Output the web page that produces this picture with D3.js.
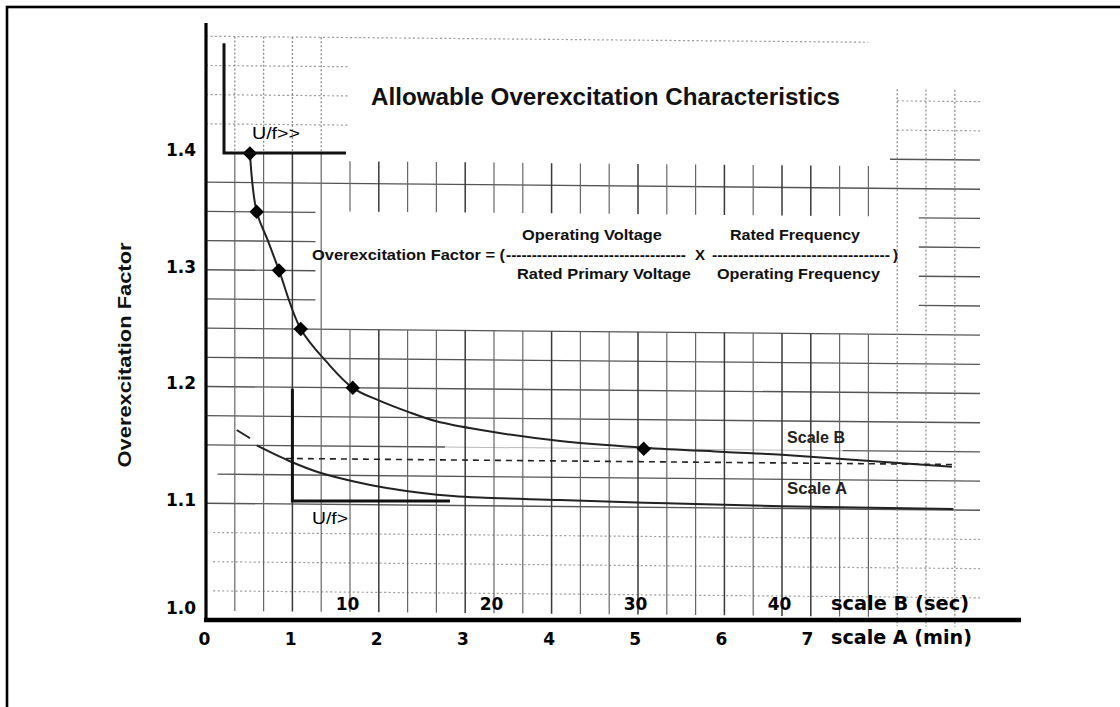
<!DOCTYPE html>
<html><head><meta charset="utf-8">
<script src="https://cdn.jsdelivr.net/npm/d3@7"></script>
<style>html,body{margin:0;padding:0;background:#fff;} svg{display:block;}</style>
</head><body>
<svg id="chart" width="1120" height="707"></svg>
<script>
// ---------------- data ----------------
const yTickValues   = [1.0, 1.1, 1.2, 1.3, 1.4];
const secTickValues = [10, 20, 30, 40];           // scale B (sec)
const minTickValues = [0, 1, 2, 3, 4, 5, 6, 7];   // scale A (min)

// U/f>> characteristic (upper curve) – time in seconds (scale B)
const upperSec    = [3.05, 3.52, 4.28, 5.07, 6.58, 8.38, 10.19, 12.08, 14.0, 16.0, 19.0, 24.6, 30.4, 36.0, 40.0, 45.4, 51.8];
const upperFactor = [1.400, 1.350, 1.326, 1.300, 1.250, 1.222, 1.200, 1.189, 1.180, 1.172, 1.165, 1.156, 1.151, 1.148, 1.146, 1.142, 1.137];

// marked points on the upper curve
const markerSec    = [3.05, 3.52, 5.07, 6.58, 10.19, 30.4];
const markerFactor = [1.40, 1.35, 1.30, 1.25, 1.20, 1.15];

// U/f> characteristic (lower curve), NaN = gap in the trace
const lowerSec    = [2.13, 3.06, NaN, 3.52, 5.95, 7.92, 10.2, 12.55, 14.86, 17.15, 19.0, 24.6, 32.0, 40.0, 51.9];
const lowerFactor = [1.163, 1.156, NaN, 1.150, 1.136, 1.127, 1.120, 1.1144, 1.1107, 1.1081, 1.107, 1.1055, 1.1035, 1.102, 1.1008];

// dashed reference line
const dashedSec    = [5.55, 51.8];
const dashedFactor = [1.139, 1.139];

// setting steps (L-shaped marks)
const stepHighSec    = [1.25, 1.25, 9.72];
const stepHighFactor = [1.494, 1.40, 1.40];
const stepLowSec     = [6.0, 6.0, 16.94];
const stepLowFactor  = [1.198, 1.102, 1.102];

// ---------------- scales ----------------
const svg = d3.select('#chart');
const x    = d3.scaleLinear().domain([0, 50]).range([206, 926]);   // seconds
const xMin = d3.scaleLinear().domain([0, 7]).range([205, 808]);    // minutes
const y    = d3.scaleLinear().domain([1.0, 1.4]).range([620, 153]);

const SANS = "'Liberation Sans', Arial, sans-serif";
const DJV  = "'DejaVu Sans', sans-serif";

// frame
svg.append('rect').attr('x', 7).attr('y', 7).attr('width', 1300).attr('height', 900)
  .attr('fill', 'none').attr('stroke', '#000').attr('stroke-width', 2.6);

// ---------------- grid paper (slightly skewed, as in the scan) ----------------
const paper = svg.append('g')
  .attr('transform', 'translate(206,0) skewY(0.52) translate(-206,0)');

const END = 53.75;
const rows = [];
[[1.5, [[0, 46]], true], [1.475, [[0, 10]], true], [1.45, [[0, 10], [48, END]], true], [1.425, [[0, 10], [48, END]], true],
 [1.4, [[47.5, END]], false], [1.375, [[0, END]], false],
 [1.35, [[0, 7.6], [49.5, END]], false], [1.325, [[0, 7.6], [49.5, END]], false],
 [1.3, [[0, 7.6], [49.5, END]], false], [1.275, [[0, 7.6], [49.5, END]], false],
 [1.25, [[0, END]], false], [1.225, [[0, END]], false], [1.2, [[0, END]], false], [1.175, [[0, END]], false],
 [1.15, [[0, 16.6], [44.2, END]], false], [1.125, [[0.8, END]], false], [1.1, [[0, END]], false],
 [1.075, [[0.5, END]], true], [1.05, [[0.5, END]], true], [1.025, [[0.5, END]], true]
].forEach(([v, segs, dotted]) => segs.forEach(s => rows.push({v, s0: s[0], s1: s[1], dotted})));

paper.append('g').selectAll('line').data(rows).join('line')
  .attr('x1', d => x(d.s0)).attr('x2', d => x(d.s1))
  .attr('y1', d => y(d.v)).attr('y2', d => y(d.v))
  .attr('stroke', d => d.dotted ? '#9a9a9a' : '#555')
  .attr('stroke-width', d => d.dotted ? 1.2 : 1.35)
  .attr('stroke-dasharray', d => d.dotted ? '2,2.5' : null);
// faint piece of 1.15 line behind the curve
paper.append('line').attr('x1', x(16.6)).attr('x2', x(44.2)).attr('y1', y(1.15)).attr('y2', y(1.15))
  .attr('stroke', '#bbb').attr('stroke-width', 1);

const cols = [];
d3.range(2, 53, 2).forEach(s => {
  if (s <= 8) {
    cols.push({s, v0: 1.4, v1: 1.008, dotted: false});
    cols.push({s, v0: 1.5, v1: 1.4, dotted: true});
  } else if (s <= 46) {
    cols.push({s, v0: 1.394, v1: 1.351, dotted: false});
    cols.push({s, v0: 1.25, v1: 1.008, dotted: false});
  } else {
    cols.push({s, v0: 1.46, v1: 1.0, dotted: true});
  }
});
paper.append('g').selectAll('line').data(cols).join('line')
  .attr('x1', d => x(d.s)).attr('x2', d => x(d.s))
  .attr('y1', d => y(d.v0)).attr('y2', d => y(d.v1))
  .attr('stroke', d => d.dotted ? '#8a8a8a' : (d.s % 6 === 0 || d.s === 40 ? '#3a3a3a' : '#666'))
  .attr('stroke-width', d => d.dotted ? 1.3 : (d.s % 6 === 0 || d.s === 40 ? 1.5 : 1.2))
  .attr('stroke-dasharray', d => d.dotted ? '2,2' : null);

// ---------------- curves ----------------
const line = d3.line().defined(d => !isNaN(d[0])).x(d => x(d[0])).y(d => y(d[1])).curve(d3.curveCatmullRom.alpha(0.5));

paper.append('path').datum(dashedSec.map((s, i) => [s, dashedFactor[i]]))
  .attr('d', d3.line().x(d => x(d[0])).y(d => y(d[1])))
  .attr('fill', 'none').attr('stroke', '#222').attr('stroke-width', 1.6).attr('stroke-dasharray', '6,5');

paper.append('path').datum(upperSec.map((s, i) => [s, upperFactor[i]]))
  .attr('d', line).attr('fill', 'none').attr('stroke', '#222').attr('stroke-width', 2);

paper.append('path').datum(lowerSec.map((s, i) => [s, lowerFactor[i]]))
  .attr('d', line).attr('fill', 'none').attr('stroke', '#222').attr('stroke-width', 2);

paper.append('g').selectAll('path').data(markerSec.map((s, i) => [s, markerFactor[i]])).join('path')
  .attr('d', d3.symbol(d3.symbolSquare, 105))
  .attr('transform', d => `translate(${x(d[0])},${y(d[1])}) rotate(45)`)
  .attr('fill', '#000');

// ---------------- setting steps ----------------
const stepLine = d3.line().x(d => x(d[0])).y(d => y(d[1]));
svg.append('path').datum(stepHighSec.map((s, i) => [s, stepHighFactor[i]]))
  .attr('d', stepLine).attr('fill', 'none').attr('stroke', '#111').attr('stroke-width', 3);
svg.append('path').datum(stepLowSec.map((s, i) => [s, stepLowFactor[i]]))
  .attr('d', stepLine).attr('fill', 'none').attr('stroke', '#111').attr('stroke-width', 3);

// ---------------- axes ----------------
svg.append('line').attr('x1', x(0)).attr('x2', x(0)).attr('y1', 23).attr('y2', y(1.0) + 2)
  .attr('stroke', '#000').attr('stroke-width', 3.2);
svg.append('line').attr('x1', x(0) - 2).attr('x2', 1021).attr('y1', y(1.0)).attr('y2', y(1.0))
  .attr('stroke', '#000').attr('stroke-width', 4.6);

const gy = svg.append('g').attr('transform', 'translate(196,-3)')
  .call(d3.axisLeft(y).tickValues(yTickValues).tickSize(0).tickPadding(0).tickFormat(d3.format('.1f')));
gy.select('.domain').remove();
gy.selectAll('text').attr('font-family', DJV).attr('font-size', 17).attr('font-weight', 'bold').attr('fill', '#000')
  .attr('dy', d => d === 1.0 ? '-0.2em' : '0.32em');

const gxA = svg.append('g').attr('transform', 'translate(-1,633)')
  .call(d3.axisBottom(xMin).tickValues(minTickValues).tickSize(0).tickPadding(0).tickFormat(d3.format('d')));
gxA.select('.domain').remove();
gxA.selectAll('text').attr('font-family', DJV).attr('font-size', 17).attr('font-weight', 'bold').attr('fill', '#000');

const gxB = svg.append('g').attr('transform', 'translate(-3,598)')
  .call(d3.axisBottom(x).tickValues(secTickValues).tickSize(0).tickPadding(0).tickFormat(d3.format('d')));
gxB.select('.domain').remove();
gxB.selectAll('text').attr('font-family', DJV).attr('font-size', 17).attr('font-weight', 'bold').attr('fill', '#000');

// ---------------- texts ----------------
function txt(t, px, py, size, opts = {}) {
  const e = svg.append('text').attr('x', px).attr('y', py).text(t)
    .attr('font-family', opts.family || SANS).attr('font-size', size)
    .attr('font-weight', opts.weight || 'bold').attr('fill', opts.fill || '#111')
    .attr('text-anchor', opts.anchor || 'start');
  if (opts.len) e.attr('textLength', opts.len).attr('lengthAdjust', 'spacingAndGlyphs');
  if (opts.transform) e.attr('transform', opts.transform);
  return e;
}

txt('Allowable Overexcitation Characteristics', 371, 105, 23, {len: 469});

txt('Overexcitation Factor', 0, 0, 19, {anchor: 'middle', len: 225, transform: 'translate(131,355) rotate(-90)'});

txt('U/f>>', 252, 139, 16, {weight: 'normal', len: 48, fill: '#000'});
txt('U/f>', 312, 524, 16, {weight: 'normal', len: 36, fill: '#000'});

txt('Overexcitation Factor = (', 312, 260, 15, {len: 193});
txt('-'.repeat(35), 506, 260, 15, {len: 180});
txt('X', 700, 260, 15, {anchor: 'middle'});
txt('-'.repeat(34), 712, 260, 15, {len: 178});
txt(')', 893, 260, 15);
txt('Operating Voltage', 522, 240, 15, {len: 140});
txt('Rated Primary Voltage', 517, 279, 15, {len: 174});
txt('Rated Frequency', 730, 240, 15, {len: 130});
txt('Operating Frequency', 717, 279, 15, {len: 163});

txt('Scale B', 787, 443, 16, {len: 58, fill: '#222'});
txt('Scale A', 787, 494, 16, {len: 60, fill: '#222'});

txt('scale B (sec)', 831, 610, 19, {family: DJV, len: 138, fill: '#000'});
txt('scale A (min)', 831, 644, 19, {family: DJV, len: 141, fill: '#000'});
</script>
</body></html>
